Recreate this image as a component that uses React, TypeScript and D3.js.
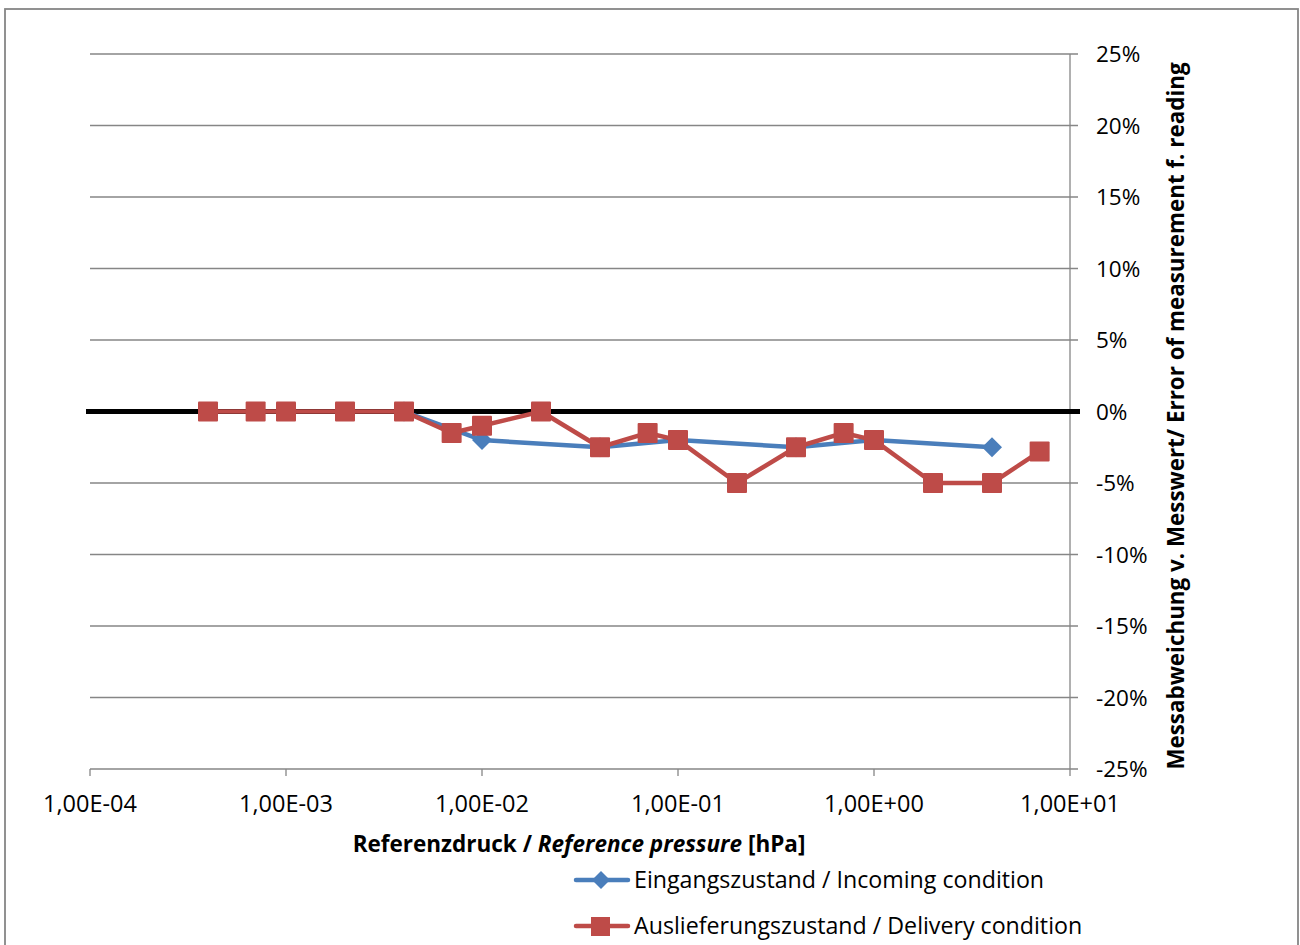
import React, { useEffect, useRef } from "react";
import * as d3 from "d3";

// pressure in hPa, error in %
const incomingPressure = [0.004, 0.01, 0.04, 0.1, 0.4, 1, 4];
const incomingError = [0, -2, -2.5, -2, -2.5, -2, -2.5];

const deliveryPressure = [
  0.0004, 0.0007, 0.001, 0.002, 0.004, 0.007, 0.01, 0.02, 0.04, 0.07, 0.1,
  0.2, 0.4, 0.7, 1, 2, 4, 7,
];
const deliveryError = [
  0, 0, 0, 0, 0, -1.5, -1, 0, -2.5, -1.5, -2, -5, -2.5, -1.5, -2, -5, -5, -2.8,
];

const xTicks = [1e-4, 1e-3, 1e-2, 1e-1, 1e0, 1e1];
const xTickLabels = [
  "1,00E-04",
  "1,00E-03",
  "1,00E-02",
  "1,00E-01",
  "1,00E+00",
  "1,00E+01",
];
const yTicks = [25, 20, 15, 10, 5, 0, -5, -10, -15, -20, -25];

const seriesNames = [
  "Eingangszustand / Incoming condition",
  "Auslieferungszustand / Delivery condition",
];

const BLUE = "#4A7EBB";
const RED = "#BE4B48";
const GRID = "#868686";
const FONT = "'Open Sans', sans-serif";

function App(): JSX.Element {
  const ref = useRef<SVGSVGElement>(null);

  useEffect(() => {
    if (!ref.current) return;
    const svg = d3.select(ref.current);
    svg.selectAll("*").remove();

    const left = 90;
    const right = 1070;
    const top = 54;
    const bottom = 769;

    const x = d3.scaleLog().domain([1e-4, 1e1]).range([left, right]);
    const y = d3.scaleLinear().domain([-25, 25]).range([bottom, top]);

    // outer frame
    svg
      .append("rect")
      .attr("x", 5)
      .attr("y", 9)
      .attr("width", 1293)
      .attr("height", 960)
      .attr("fill", "white")
      .attr("stroke", GRID)
      .attr("stroke-width", 1.8);

    // horizontal grid
    svg
      .append("g")
      .selectAll("line")
      .data(yTicks)
      .enter()
      .append("line")
      .attr("x1", left)
      .attr("x2", right + 8)
      .attr("y1", (d) => y(d))
      .attr("y2", (d) => y(d))
      .attr("stroke", GRID)
      .attr("stroke-width", 1.3);

    // right axis line
    svg
      .append("line")
      .attr("x1", right)
      .attr("x2", right)
      .attr("y1", top)
      .attr("y2", bottom)
      .attr("stroke", GRID)
      .attr("stroke-width", 1.3);

    // bottom axis ticks
    svg
      .append("g")
      .selectAll("line")
      .data(xTicks)
      .enter()
      .append("line")
      .attr("x1", (d) => x(d))
      .attr("x2", (d) => x(d))
      .attr("y1", bottom)
      .attr("y2", bottom + 7)
      .attr("stroke", GRID)
      .attr("stroke-width", 1.3);

    // y tick labels
    svg
      .append("g")
      .selectAll("text")
      .data(yTicks)
      .enter()
      .append("text")
      .attr("x", 1096)
      .attr("y", (d) => y(d) + 8)
      .attr("font-family", FONT)
      .attr("font-size", 22.5)
      .attr("fill", "#000")
      .text((d) => `${d}%`);

    // x tick labels
    svg
      .append("g")
      .selectAll("text")
      .data(xTicks)
      .enter()
      .append("text")
      .attr("x", (d) => x(d))
      .attr("y", 812)
      .attr("text-anchor", "middle")
      .attr("font-family", FONT)
      .attr("font-size", 23.5)
      .attr("fill", "#000")
      .text((_, i) => xTickLabels[i]);

    // x axis title
    const xt = svg
      .append("text")
      .attr("x", 579)
      .attr("y", 852)
      .attr("text-anchor", "middle")
      .attr("font-family", FONT)
      .attr("font-size", 22.5)
      .attr("font-weight", "bold");
    xt.append("tspan").text("Referenzdruck / ");
    xt.append("tspan").attr("font-style", "italic").text("Reference pressure");
    xt.append("tspan").text(" [hPa]");

    // y axis title
    svg
      .append("text")
      .attr("transform", `translate(1184,416) rotate(-90)`)
      .attr("text-anchor", "middle")
      .attr("font-family", FONT)
      .attr("font-size", 22.4)
      .attr("font-weight", "bold")
      .text("Messabweichung v. Messwert/ Error of measurement f. reading");

    // zero line
    svg
      .append("line")
      .attr("x1", 86)
      .attr("x2", 1080)
      .attr("y1", y(0))
      .attr("y2", y(0))
      .attr("stroke", "#000")
      .attr("stroke-width", 5);

    const line = d3
      .line<[number, number]>()
      .x((d) => x(d[0]))
      .y((d) => y(d[1]));

    const blueData: [number, number][] = incomingPressure.map((p, i) => [
      p,
      incomingError[i],
    ]);
    const redData: [number, number][] = deliveryPressure.map((p, i) => [
      p,
      deliveryError[i],
    ]);

    svg
      .append("path")
      .datum(blueData)
      .attr("fill", "none")
      .attr("stroke", BLUE)
      .attr("stroke-width", 4.5)
      .attr("stroke-linejoin", "round")
      .attr("d", line);

    const diamond = (cx: number, cy: number, r: number) =>
      `M${cx},${cy - r}L${cx + r},${cy}L${cx},${cy + r}L${cx - r},${cy}Z`;

    svg
      .append("g")
      .selectAll("path")
      .data(blueData)
      .enter()
      .append("path")
      .attr("d", (d) => diamond(x(d[0]), y(d[1]), 10))
      .attr("fill", BLUE);

    svg
      .append("path")
      .datum(redData)
      .attr("fill", "none")
      .attr("stroke", RED)
      .attr("stroke-width", 4.5)
      .attr("stroke-linejoin", "round")
      .attr("d", line);

    svg
      .append("g")
      .selectAll("rect")
      .data(redData)
      .enter()
      .append("rect")
      .attr("x", (d) => x(d[0]) - 10)
      .attr("y", (d) => y(d[1]) - 10)
      .attr("width", 20)
      .attr("height", 20)
      .attr("rx", 1)
      .attr("fill", RED);

    // legend
    const legendY = [880, 926];
    const colors = [BLUE, RED];
    seriesNames.forEach((name, i) => {
      const g = svg.append("g");
      g.append("line")
        .attr("x1", 576)
        .attr("x2", 628)
        .attr("y1", legendY[i])
        .attr("y2", legendY[i])
        .attr("stroke", colors[i])
        .attr("stroke-width", 4.5)
        .attr("stroke-linecap", "round");
      if (i === 0) {
        g.append("path")
          .attr("d", diamond(601, legendY[i], 9))
          .attr("fill", colors[i]);
      } else {
        g.append("rect")
          .attr("x", 591)
          .attr("y", legendY[i] - 9)
          .attr("width", 19)
          .attr("height", 19)
          .attr("fill", colors[i]);
      }
      g.append("text")
        .attr("x", 634)
        .attr("y", legendY[i] + 8)
        .attr("font-family", FONT)
        .attr("font-size", 23.2)
        .attr("fill", "#000")
        .text(name);
    });
  }, []);

  return (
    <svg
      ref={ref}
      width={1300}
      height={945}
      style={{ position: "absolute", left: 0, top: 0, background: "white" }}
    />
  );
}

export default App;
